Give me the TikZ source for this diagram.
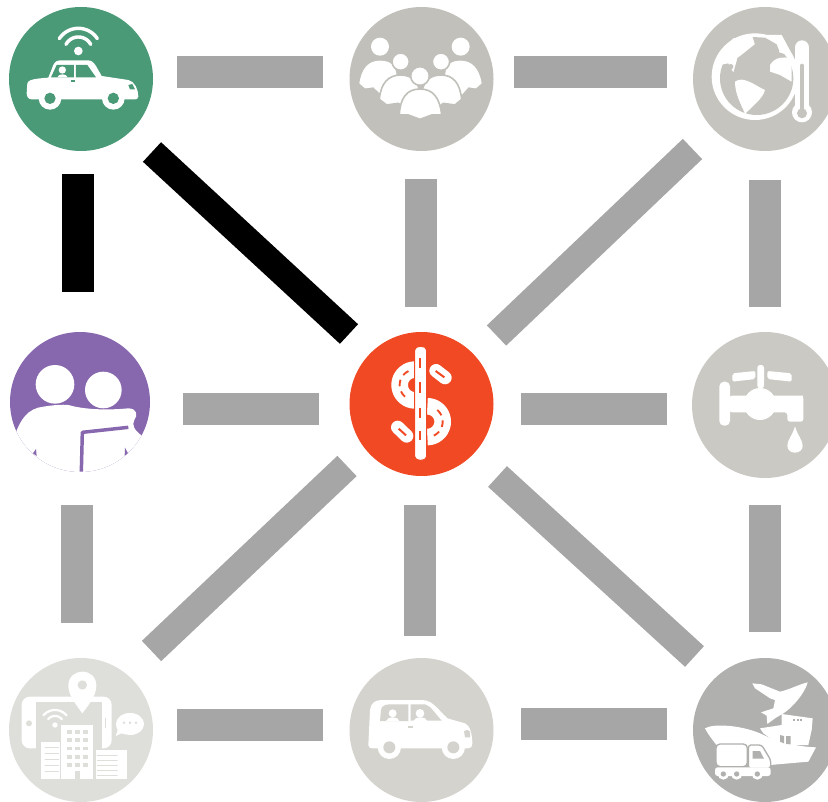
\documentclass[tikz,border=0pt]{standalone}
\definecolor{cGreen}{HTML}{4A9A78}
\definecolor{cPeople}{HTML}{C2C0BA}
\definecolor{cGlobe}{HTML}{C6C4BE}
\definecolor{cPurple}{HTML}{8767AE}
\definecolor{cOrange}{HTML}{F04923}
\definecolor{cTap}{HTML}{CBC9C4}
\definecolor{cCity}{HTML}{DEDEDA}
\definecolor{cCar}{HTML}{D4D3CE}
\definecolor{cShip}{HTML}{B0B0AE}
\definecolor{cBar}{HTML}{A6A6A6}
\tikzset{
  hub/.style={circle,minimum size=#1*1.5pt,inner sep=0pt,outer sep=0pt},
  bar/.style={draw=cBar,line width=24pt},
  diagbar/.style={draw=cBar,line width=21pt},
  hotbar/.style={draw=black,line width=24pt},
  hotdiag/.style={draw=black,line width=20pt},
  icon/.style={shift={(#1)},scale=0.33333,line cap=round,line join=round}
}
\begin{document}
\begin{tikzpicture}[x=0.75pt,y=-0.75pt]
\useasboundingbox (0,0) rectangle (828,802);
\clip (0,0) rectangle (828,802);
\node[hub=72,fill=cGreen] (a) at (81,79) {};
\node[hub=72,fill=cPeople] (b) at (421.5,79) {};
\node[hub=72,fill=cGlobe] (c) at (765,79) {};
\node[hub=70,fill=cPurple] (d) at (80,402) {};
\node[hub=72,fill=cOrange] (e) at (421.5,404) {};
\node[hub=73,fill=cTap] (f) at (765,405) {};
\node[hub=72,fill=cCity] (g) at (81,730) {};
\node[hub=72,fill=cCar] (h) at (421.5,730) {};
\node[hub=72,fill=cShip] (i) at (765,730) {};
% connectors
\draw[bar] ([shift={(96,-7)}]a.center) -- ([shift={(-98.5,-7)}]b.center);
\draw[bar] ([shift={(92.5,-7)}]b.center) -- ([shift={(-98,-7)}]c.center);
\draw[hotbar] ([shift={(-3,95)}]a.center) -- ([shift={(-2,-110)}]d.center);
\draw[hotdiag] ([shift={(71,73)}]a.center) -- ([shift={(-72.5,-70)}]e.center);
\draw[bar] ([shift={(-0.5,100)}]b.center) -- ([shift={(-0.5,-97)}]e.center);
\draw[diagbar] ([shift={(-72.5,70)}]c.center) -- ([shift={(75,-68.5)}]e.center);
\draw[bar] ([shift={(0,101)}]c.center) -- ([shift={(0,-98)}]f.center);
\draw[bar] ([shift={(103,7)}]d.center) -- ([shift={(-102.5,5)}]e.center);
\draw[bar] ([shift={(99.5,5)}]e.center) -- ([shift={(-98,4)}]f.center);
\draw[bar] ([shift={(-3.5,103)}]d.center) -- ([shift={(-4.5,-107)}]g.center);
\draw[diagbar] ([shift={(-74.5,62)}]e.center) -- ([shift={(70.5,-79)}]g.center);
\draw[bar] ([shift={(-1.5,101)}]e.center) -- ([shift={(-1.5,-94)}]h.center);
\draw[diagbar] ([shift={(76,72.5)}]e.center) -- ([shift={(-70.5,-73.5)}]i.center);
\draw[bar] ([shift={(0,100)}]f.center) -- ([shift={(0,-98)}]i.center);
\draw[bar] ([shift={(96,-5.5)}]g.center) -- ([shift={(-98.5,-5.5)}]h.center);
\draw[bar] ([shift={(99.5,-6.5)}]h.center) -- ([shift={(-98,-6.5)}]i.center);

% icon A: connected car
\begin{scope}[icon={0,0}]
\fill[white] (235,153) circle[radius=13];
\draw[white,line width=2.6pt] plot[domain=28:152,samples=24] ({235+42*cos(\x)},{153-42*sin(\x)});
\draw[white,line width=2.6pt] plot[domain=33:147,samples=24] ({235+68*cos(\x)},{153-68*sin(\x)});
\fill[white] (82,250) .. controls (84,240) and (100,236) .. (145,233) -- (160,195) .. controls (165,184) and (172,181) .. (185,181) -- (262,181) .. controls (275,181) and (280,186) .. (288,198) -- (305,228) -- (385,240) .. controls (405,244) and (415,270) .. (415,290) .. controls (415,297) and (410,298) .. (400,298) -- (95,298) .. controls (85,298) and (80,290) .. (80,280) -- cycle;
\fill[cGreen] (170,195) -- (222,195) -- (222,232) -- (153,232) -- cycle;
\fill[cGreen] (228,195) -- (262,195) -- (288,232) -- (228,232) -- cycle;
\fill[white] (187,210) circle[radius=11];
\fill[white] (172,232) .. controls (175,220) and (200,220) .. (203,232) -- cycle;
\fill[cGreen] (212,239) rectangle (226,245);
\fill[cGreen] (385,255) -- (397,252) -- (405,268) -- (390,268) -- cycle;
\fill[white] (150,295) circle[radius=34];
\fill[white] (340,295) circle[radius=34];
\fill[cGreen] (150,295) circle[radius=17];
\fill[cGreen] (340,295) circle[radius=17];
\end{scope}

% icon B: people
\begin{scope}[icon={340,0}]
\fill[white] (120,140) circle[radius=27];
\fill[white] (362,140) circle[radius=27];
\fill[white] (58,250) .. controls (65,205) and (85,182) .. (120,182) .. controls (150,182) and (170,195) .. (170,235) -- (125,285) -- (100,262) -- (75,265) -- cycle;
\fill[white] (425,250) .. controls (418,205) and (395,182) .. (362,182) .. controls (332,182) and (315,195) .. (315,235) -- (365,285) -- (385,262) -- (408,265) -- cycle;
\filldraw[fill=white,draw=cPeople,line width=1.2pt] (182,185) circle[radius=26];
\filldraw[fill=white,draw=cPeople,line width=1.2pt] (303,185) circle[radius=26];
\filldraw[fill=white,draw=cPeople,line width=1.2pt] (118,298) .. controls (122,250) and (145,225) .. (182,225) .. controls (220,225) and (240,250) .. (240,290) -- (200,330) -- (175,310) -- (140,315) -- cycle;
\filldraw[fill=white,draw=cPeople,line width=1.2pt] (365,298) .. controls (360,250) and (340,225) .. (303,225) .. controls (265,225) and (245,250) .. (245,290) -- (285,330) -- (310,310) -- (345,315) -- cycle;
\filldraw[fill=white,draw=cPeople,line width=1.2pt] (240,228) circle[radius=28];
\filldraw[fill=white,draw=cPeople,line width=1.2pt] (178,345) .. controls (180,295) and (200,267) .. (240,267) .. controls (280,267) and (300,295) .. (305,345) -- (275,345) -- (240,358) -- (205,345) -- cycle;
\end{scope}

% icon C: globe and thermometer
\begin{scope}[icon={700,15}]
\fill[white] (165,185) circle[radius=130];
\fill[cGlobe] (170,190) circle[radius=110];
% upper white band between the ring and North America
\fill[white] (58,150) -- (85,145) -- (100,172) -- (112,130) -- (135,112) -- (165,88) -- (158,60) -- (100,70) -- (60,110) -- cycle;
\fill[white] (158,60) -- (245,60) -- (280,125) -- (238,112) -- (230,88) -- (195,68) -- cycle;
% North America
\fill[cGlobe] (158,66) -- (195,68) -- (230,88) -- (238,108) -- (215,125) -- (200,170) -- (135,170) -- (112,130) -- (135,112) -- (165,88) -- cycle;
% South America
\fill[white] (105,200) .. controls (130,180) and (170,215) .. (195,225) .. controls (190,250) and (150,280) .. (135,297) .. controls (125,270) and (105,240) .. (105,200) -- cycle;
% Africa / Europe side
\fill[white] (210,150) .. controls (225,125) and (250,125) .. (275,130) -- (275,200) -- (240,180) -- (210,170) -- cycle;
\fill[cGlobe] (92,155) circle[radius=8];
\draw[cGlobe,line width=2pt] (305,90) -- (305,290);
\fill[cGlobe] (305,295) circle[radius=40];
\draw[white,line width=11pt,line cap=round] (306,98) -- (306,290);
\fill[white] (306,292) circle[radius=30];
\draw[cGlobe,line width=3pt] (306,152) -- (306,285);
\fill[cGlobe] (306,295) circle[radius=15];
\end{scope}

% icon D: two people
\begin{scope}
\clip (d.center) circle[radius=70];
\begin{scope}[icon={0,325}]
\fill[white] (165,178) circle[radius=58];
\fill[white] (310,195) circle[radius=55];
\fill[white] (40,345) .. controls (60,280) and (85,250) .. (130,245) .. controls (160,240) and (190,238) .. (205,240) .. controls (240,250) and (300,258) .. (385,250) .. controls (410,250) and (415,270) .. (403,285) .. controls (395,300) and (400,315) .. (436,340) -- (470,460) -- (0,460) -- cycle;
\draw[cPurple,line width=2.6pt,line cap=butt] (244,440) -- (247,322) -- (385,307);
\fill[cPurple] (108,372) -- (99,385) -- (110,393) -- cycle;
\fill[cPurple] (375,368) -- (384,385) -- (374,392) -- cycle;
\end{scope}
\end{scope}

% icon E: road dollar
\begin{scope}[icon={340,325}]
\draw[white,line width=12.5pt,line cap=butt] plot[domain=90:270,samples=30] ({225+46*cos(\x)},{180-46*sin(\x)});
\draw[white,line width=12.5pt,line cap=butt] plot[domain=-90:90,samples=30] ({262+46*cos(\x)},{290-46*sin(\x)});
\draw[white,line width=10pt] (288,137) -- (315,158);
\draw[white,line width=10pt] (173,307) -- (200,333);
\draw[cOrange,line width=1.5pt,line cap=butt] (287,138) -- (313,157);
\draw[cOrange,line width=1.5pt,line cap=butt] (176,311) -- (198,331);
\draw[cOrange,line width=1.4pt,line cap=butt,dash pattern=on 5pt off 4pt] plot[domain=115:245,samples=30] ({225+46*cos(\x)},{180-46*sin(\x)});
\draw[cOrange,line width=1.4pt,line cap=butt,dash pattern=on 5pt off 4pt] plot[domain=-65:65,samples=30] ({262+46*cos(\x)},{290-46*sin(\x)});
\filldraw[fill=white,draw=cOrange,line width=0.8pt] (224,75) .. controls (224,60) and (260,60) .. (260,75) -- (260,395) .. controls (260,410) and (224,410) .. (224,395) -- cycle;
\draw[cOrange,line width=1.5pt,line cap=butt] (241,100) -- (241,130) (241,170) -- (241,205) (241,248) -- (241,280) (241,318) -- (241,346);
\end{scope}

% icon F: tap
\begin{scope}[icon={680,325}]
\fill[white,rounded corners=3.5pt] (118,170) rectangle (150,302);
\fill[white,rounded corners=2pt] (148,212) -- (360,212) .. controls (368,212) and (370,220) .. (370,230) -- (370,290) -- (322,290) -- (322,262) -- (148,262) -- cycle;
\fill[white] (240,237) circle[radius=48];
\fill[white,rounded corners=2pt] (232,120) rectangle (252,190);
\fill[white,rounded corners=1.5pt] (157,145) -- (226,138) -- (226,162) -- (157,170) -- cycle;
\fill[white,rounded corners=1.5pt] (335,145) -- (262,138) -- (262,162) -- (335,170) -- cycle;
\fill[white] (345,304) .. controls (352,330) and (368,345) .. (368,362) .. controls (368,375) and (358,383) .. (345,383) .. controls (332,383) and (322,375) .. (322,362) .. controls (322,345) and (338,330) .. (345,304) -- cycle;
\end{scope}

% icon G: city
\begin{scope}[icon={0,650}]
\fill[white,rounded corners=6pt] (65,140) rectangle (335,295);
\fill[cCity] (108,157) rectangle (305,300);
\fill[cCity] (87,220) circle[radius=9];
\draw[cCity,line width=1pt] (317,205) -- (317,232);
\fill[white] (247,190) .. controls (225,160) and (205,135) .. (205,107) .. controls (205,80) and (225,65) .. (247,65) .. controls (270,65) and (289,80) .. (289,107) .. controls (289,135) and (270,160) .. (247,190) -- cycle;
\fill[cCity] (247,105) circle[radius=14];
\fill[white] (165,225) circle[radius=8];
\draw[white,line width=1.7pt] plot[domain=40:140,samples=20] ({165+27*cos(\x)},{225-27*sin(\x)});
\draw[white,line width=1.7pt] plot[domain=40:140,samples=20] ({165+45*cos(\x)},{225-45*sin(\x)});
\fill[white] (122,275) rectangle (180,388);
\fill[white] (287,300) rectangle (382,388);
\fill[white] (183,225) rectangle (280,388);
\foreach \yy in {292,310,328,346,364} \draw[cCity,line width=0.5pt] (135,\yy) -- (176,\yy);
\foreach \yy in {315,330,345,360,375} \draw[cCity,line width=0.5pt] (292,\yy) -- (352,\yy);
\foreach \xx in {200,225,250} \foreach \yy in {240,265,290,315,340} \fill[cCity] (\xx,\yy) rectangle +(15,11);
\fill[cCity] (225,362) rectangle (240,388);
\fill[white] (390,189) .. controls (415,189) and (432,205) .. (432,222) .. controls (432,240) and (415,255) .. (390,255) .. controls (380,255) and (372,252) .. (365,250) -- (347,258) -- (353,240) .. controls (350,235) and (348,228) .. (348,222) .. controls (348,205) and (365,189) .. (390,189) -- cycle;
\foreach \xx in {372,390,408} \fill[cCity] (\xx,218) circle[radius=4];
\end{scope}

% icon H: family car
\begin{scope}[icon={340,650}]
\fill[white] (85,285) -- (90,180) .. controls (92,160) and (105,150) .. (125,150) -- (245,150) .. controls (265,150) and (275,158) .. (290,172) -- (322,205) -- (375,220) .. controls (390,225) and (397,255) .. (397,280) .. controls (397,292) and (390,295) .. (380,295) -- (100,295) .. controls (90,295) and (85,292) .. (85,285) -- cycle;
\fill[cCar] (120,213) -- (123,180) .. controls (125,168) and (135,163) .. (150,163) -- (205,163) -- (205,213) -- cycle;
\fill[cCar] (212,163) -- (255,163) .. controls (270,165) and (285,190) .. (305,212) -- (212,212) -- cycle;
\fill[white] (158,190) circle[radius=12];
\fill[white] (240,190) circle[radius=13];
\fill[white] (138,213) .. controls (142,198) and (175,198) .. (178,213) -- cycle;
\fill[white] (220,213) .. controls (225,198) and (258,198) .. (262,213) -- cycle;
\fill[cCar] (205,227) rectangle (219,233);
\fill[cCar] (372,243) .. controls (378,238) and (388,238) .. (390,245) -- (390,262) -- (375,262) -- cycle;
\fill[white] (148,292) circle[radius=35];
\fill[white] (340,292) circle[radius=35];
\fill[cCar] (148,292) circle[radius=18];
\fill[cCar] (340,292) circle[radius=18];
\end{scope}

% icon I: plane ship truck
\begin{scope}[icon={680,650}]
\fill[white] (383,97) .. controls (360,102) and (325,120) .. (300,125) -- (245,103) -- (217,100) -- (225,115) -- (270,145) -- (285,150) -- (280,175) -- (243,187) -- (260,197) -- (262,222) -- (285,205) -- (310,190) .. controls (335,175) and (375,130) .. (383,97) -- cycle;
\fill[white] (305,192) -- (398,205) -- (395,240) -- (385,285) -- (300,285) -- (250,250) -- (240,235) -- (305,225) -- cycle;
\foreach \xx in {340,350,360} \fill[cShip] (\xx,208) rectangle +(6,5);
\fill[white] (75,235) .. controls (100,220) and (180,225) .. (240,250) .. controls (290,275) and (350,290) .. (408,292) -- (385,335) -- (270,345) -- (130,310) .. controls (105,280) and (85,255) .. (75,235) -- cycle;
\fill[cShip] (300,255) -- (312,258) -- (312,280) -- (300,275) -- cycle;
\fill[cShip] (318,258) -- (332,258) -- (332,283) -- (318,282) -- cycle;
\filldraw[fill=white,draw=cShip,line width=1pt,rounded corners=3pt] (108,282) rectangle (202,350);
\filldraw[fill=white,draw=cShip,line width=1pt,rounded corners=2pt] (205,285) -- (245,285) -- (272,330) -- (272,355) -- (205,355) -- cycle;
\fill[cShip] (218,303) -- (240,303) -- (252,326) -- (218,326) -- cycle;
\fill[white,rounded corners=2pt] (105,352) rectangle (272,378);
\foreach \xx in {130,170,232} {\fill[white] (\xx,372) circle[radius=17]; \fill[cShip] (\xx,372) circle[radius=8];}
\end{scope}
\end{tikzpicture}
\end{document}
